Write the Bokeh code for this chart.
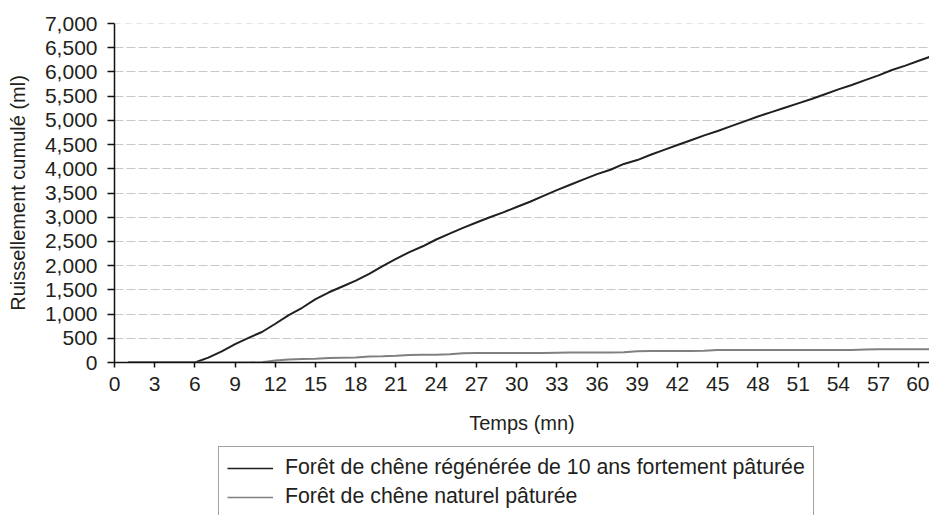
from bokeh.plotting import figure
from bokeh.layouts import column
from bokeh.models import (Range1d, FixedTicker, NumeralTickFormatter, Legend,
                          LegendItem, Span)
from bokeh.embed import file_html
from bokeh.resources import INLINE

# ---- data ----
minutes = list(range(1, 62))
regen_grazed = [0, 0, 0, 0, 0, 0, 100, 230, 380, 510,
                630, 800, 980, 1130, 1310, 1450, 1570, 1690, 1830, 1990,
                2140, 2280, 2400, 2540, 2660, 2780, 2890, 3000, 3100, 3210,
                3320, 3440, 3560, 3670, 3780, 3890, 3980, 4100, 4180, 4290,
                4390, 4490, 4590, 4690, 4780, 4880, 4980, 5080, 5170, 5260,
                5350, 5440, 5540, 5640, 5730, 5830, 5930, 6040, 6130, 6230,
                6330]
natural_grazed = [0, 0, 0, 0, 0, 0, 0, 0, 0, 0,
                  5, 40, 60, 70, 75, 95, 100, 105, 125, 130,
                  140, 155, 160, 160, 170, 190, 195, 195, 195, 195,
                  195, 195, 200, 205, 205, 205, 205, 210, 230, 235,
                  235, 235, 240, 245, 260, 260, 260, 260, 260, 260,
                  260, 260, 260, 260, 260, 270, 275, 275, 275, 275,
                  275]
x_ticks = list(range(0, 61, 3))
y_ticks = list(range(0, 7001, 500))
label_regen = "Forêt de chêne régénérée de 10 ans fortement pâturée"
label_natural = "Forêt de chêne naturel pâturée"
x_title = "Temps (mn)"
y_title = "Ruissellement cumulé (ml)"

FONT = "Liberation Sans"
C_REGEN = "#231f20"
C_NAT = "#808080"

p = figure(width=929, height=445, output_backend="svg", toolbar_location=None,
           x_range=Range1d(0, 60.8), y_range=Range1d(0, 7000),
           min_border_left=114, min_border_right=0, min_border_top=23,
           min_border_bottom=83)
p.outline_line_color = None
p.background_fill_color = "white"
p.border_fill_color = "white"

r1 = p.line(minutes, regen_grazed, line_color=C_REGEN, line_width=2)
r2 = p.line(minutes, natural_grazed, line_color=C_NAT, line_width=2)

# axes
for ax in (p.xaxis[0], p.yaxis[0]):
    ax.axis_line_color = "#111111"
    ax.axis_line_width = 1.5
    ax.major_tick_line_color = "#111111"
    ax.major_tick_line_width = 1.5
    ax.major_tick_in = 0
    ax.minor_tick_line_color = None
    ax.major_label_text_font = FONT
    ax.major_label_text_font_size = "21px"
    ax.major_label_text_color = C_REGEN
    ax.axis_label_text_font = FONT
    ax.axis_label_text_font_size = "20px"
    ax.axis_label_text_font_style = "normal"
    ax.axis_label_text_color = C_REGEN

p.xaxis[0].ticker = FixedTicker(ticks=x_ticks)
p.xaxis[0].major_tick_out = 5
p.xaxis[0].major_label_standoff = 9
p.xaxis[0].axis_label = x_title
p.xaxis[0].axis_label_standoff = 18

p.yaxis[0].ticker = FixedTicker(ticks=y_ticks)
p.yaxis[0].formatter = NumeralTickFormatter(format="0,0")
p.yaxis[0].major_tick_out = 7
p.yaxis[0].major_label_standoff = 10
p.yaxis[0].axis_label = y_title
p.yaxis[0].axis_label_standoff = 13

# grid
p.xgrid.grid_line_color = None
p.ygrid.ticker = FixedTicker(ticks=y_ticks[1:-1])
p.ygrid.grid_line_color = "#c8c8c8"
p.ygrid.grid_line_width = 1
p.ygrid.grid_line_dash = "9 3"
p.add_layout(Span(location=7000, dimension="width", line_color="#c8c8c8",
                  line_width=1, line_dash="6 5"))

# legend strip below the chart (series drawn out of view, only keys show)
p2 = figure(width=929, height=70, output_backend="svg", toolbar_location=None,
            x_range=Range1d(0, 1), y_range=Range1d(-2, -1),
            x_axis_location=None, y_axis_location=None,
            min_border_left=0, min_border_right=0, min_border_top=0,
            min_border_bottom=0)
p2.grid.grid_line_color = None
p2.outline_line_color = None
p2.background_fill_color = "white"
p2.border_fill_color = "white"
k1 = p2.line(minutes, regen_grazed, line_color=C_REGEN, line_width=1.6)
k2 = p2.line(minutes, natural_grazed, line_color=C_NAT, line_width=1.6)

legend = Legend(items=[LegendItem(label=label_regen, renderers=[k1]),
                       LegendItem(label=label_natural, renderers=[k2])],
                location=(104, -3), orientation="vertical",
                label_text_font=FONT, label_text_font_size="21.3px",
                label_text_color=C_REGEN,
                glyph_width=46, glyph_height=20, label_height=20,
                label_standoff=12, spacing=4, padding=8, margin=0,
                border_line_color="#444444", border_line_width=1,
                background_fill_color="white", background_fill_alpha=1)
p2.add_layout(legend, "center")

layout = column(p, p2, spacing=0)
open("out.html", "w").write(file_html(layout, INLINE))
